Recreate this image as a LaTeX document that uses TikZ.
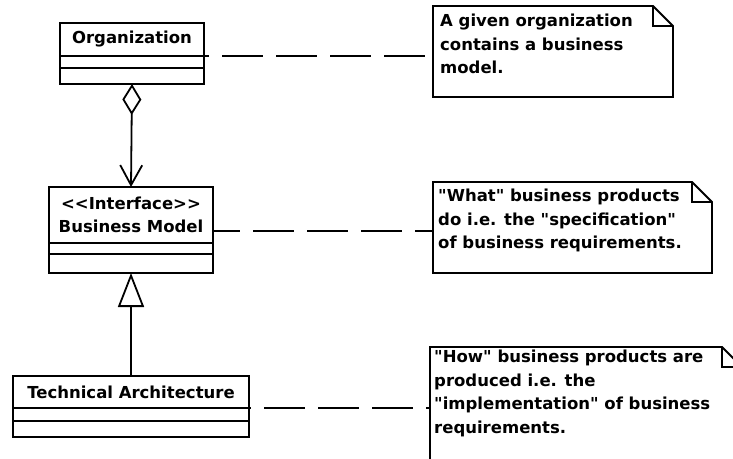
\documentclass[tikz,border=0pt]{standalone}
\usepackage{fontspec}
\setmainfont{DejaVu Sans}[Ligatures=TeXOff]
\usepackage{tikz}
\usetikzlibrary{positioning}
\usetikzlibrary{arrows.meta}
\newcommand{\umlfont}{\fontsize{16.5}{23.5}\selectfont\bfseries}
\tikzset{
    common/.style={draw, rectangle, line width=1.8pt, inner sep=0pt, outer sep=0pt},
    classname/.style={common, anchor=north, align=center, font=\umlfont},
    compartment/.style={common, below=0pt of #1},
    notetext/.style={anchor=north west, align=left, inner sep=0pt, font=\umlfont},
    noteline/.style={line width=1.8pt, line join=miter},
    notelink/.style={line width=1.8pt, dash pattern=on 41pt off 13pt},
    aggregation/.style={line width=1.8pt, {Diamond[open, length=31pt, width=19pt]}-{Straight Barb[length=20pt, width=22pt]}},
    generalization/.style={line width=1.8pt, -{Triangle[open, length=34pt, width=26pt]}}
}
\begin{document}
\begin{tikzpicture}[x=1pt, y=-1pt]
      \useasboundingbox (0,0) rectangle (733,458);
      \clip (0,0) rectangle (733,458);

      \newcommand\notebox[3]{
        \draw[noteline] (#1) -- ++(#2-20,0) -- ++(20,20) -- ++(0,#3-20) -- ++(-#2,0) -- cycle
          (#1) ++(#2-20,0) -- ++(0,20) -- ++(20,0);
      }

      \node[classname, minimum width=144pt, minimum height=33pt] (org) at (132,23) {Organization};
      \node[compartment=org, minimum width=144pt, minimum height=12pt] (org-attr) {};
      \node[compartment=org-attr, minimum width=144pt, minimum height=16pt] (org-ops) {};

      \node[classname, minimum width=164pt, minimum height=56pt] (bm) at (131,187) {<<Interface>>\\Business Model};
      \node[compartment=bm, minimum width=164pt, minimum height=11pt] (bm-attr) {};
      \node[compartment=bm-attr, minimum width=164pt, minimum height=19pt] (bm-ops) {};

      \node[classname, minimum width=236pt, minimum height=32pt] (ta) at (131,376) {Technical Architecture};
      \node[compartment=ta, minimum width=236pt, minimum height=13pt] (ta-attr) {};
      \node[compartment=ta-attr, minimum width=236pt, minimum height=16pt] (ta-ops) {};

      \coordinate (n1) at (433,6);
      \coordinate (n2) at (433,182);
      \coordinate (n3) at (430,347);

      \notebox{n1}{240}{91};
      \notebox{n2}{279}{91};
      \notebox{n3}{312}{130};

      \node[notetext] (n1-text) at ([shift={(7,8)}]n1) {A given organization\\contains a business\\model.};
      \node[notetext] (n2-text) at ([shift={(5,7)}]n2) {"What" business products\\do i.e. the "specification"\\of business requirements.};
      \node[notetext] (n3-text) at ([shift={(4,3)}]n3) {"How" business products are\\produced i.e. the\\"implementation" of business\\requirements.};

      \coordinate[above=12pt of bm.south east] (bm-link);

      \draw[aggregation] (org-ops.south) -- (bm.north);
      \draw[generalization] (ta.north) -- (bm-ops.south);

      \draw[notelink, dash phase=36pt] (org.south east) -- (org.south east -| n1);
      \draw[notelink, dash phase=14pt] (bm-link) -- (bm-link -| n2);
      \draw[notelink, dash phase=39pt] (ta.south east) -- (ta.south east -| n3);
\end{tikzpicture}
\end{document}
